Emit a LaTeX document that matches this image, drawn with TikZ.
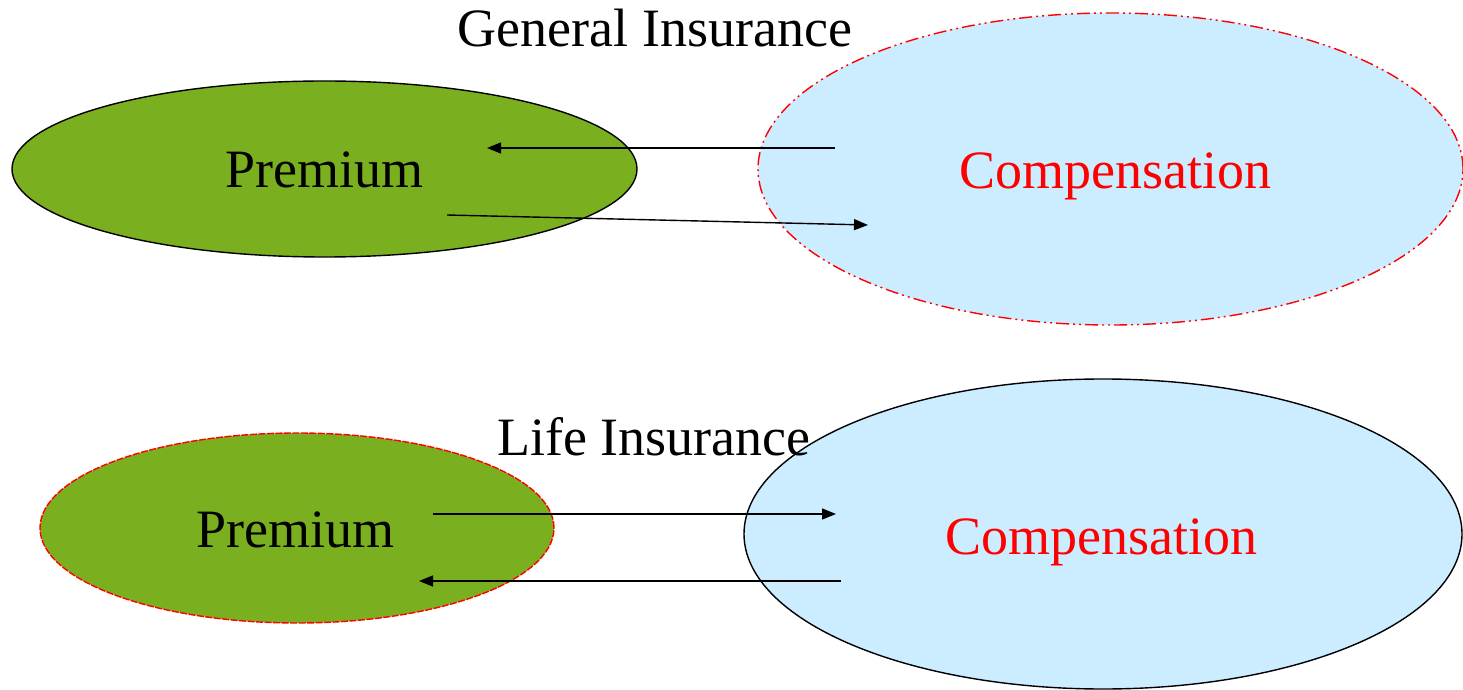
\documentclass[tikz,border=0pt]{standalone}
\usepackage{fontspec}
\setmainfont{Liberation Serif}
\usetikzlibrary{shapes.geometric,arrows.meta}
\definecolor{leafgreen}{RGB}{122,175,32}
\definecolor{paleblue}{RGB}{204,236,255}
\begin{document}
\begin{tikzpicture}[x=1pt,y=1pt,
  blob/.style={ellipse, inner sep=0pt, line width=1.4pt},
  title/.style={anchor=base, inner sep=0pt, font=\fontsize{54}{60}\selectfont},
  flow/.style={line width=1.4pt, -{Triangle[length=14pt,width=11pt]}}
]
\useasboundingbox (0,0) rectangle (1463,689);
% top row
\node[blob, fill=leafgreen, draw=black, minimum width=625, minimum height=176] (gp) at (324.5,520) {};
\node[blob, fill=paleblue, draw=red, dash pattern=on 13pt off 4pt on 2pt off 4pt on 2pt off 4pt, minimum width=705, minimum height=312] (gc) at (1110.5,520) {};
% bottom row
\node[blob, fill=leafgreen, draw=red, dash pattern=on 7pt off 1.5pt, minimum width=514, minimum height=190] (lp) at (297,161) {};
\node[blob, fill=paleblue, draw=black, minimum width=718, minimum height=310] (lc) at (1103,155) {};
% texts
\node[title] (gpt) at (324.5,501) {Premium};
\node[title, text=red] (gct) at (1115,500.5) {Compensation};
\node[title] (lpt) at (295.5,142) {Premium};
\node[title, text=red] (lct) at (1101,135) {Compensation};
\node[title] (gt) at (655,642) {General Insurance};
\node[title] (lt) at (654,234) {Life Insurance};
% arrow end points
\coordinate (a1s) at (835,541);
\coordinate (a1e) at (487,541);
\coordinate (a2s) at (447,474);
\coordinate (a2e) at (868,464);
\coordinate (b1s) at (433,175);
\coordinate (b1e) at (836,175);
\coordinate (b2s) at (841,108);
\coordinate (b2e) at (419,108);
\draw[flow] (a1s) -- (a1e);
\draw[flow] (a2s) -- (a2e);
\draw[flow] (b1s) -- (b1e);
\draw[flow] (b2s) -- (b2e);
\end{tikzpicture}
\end{document}
